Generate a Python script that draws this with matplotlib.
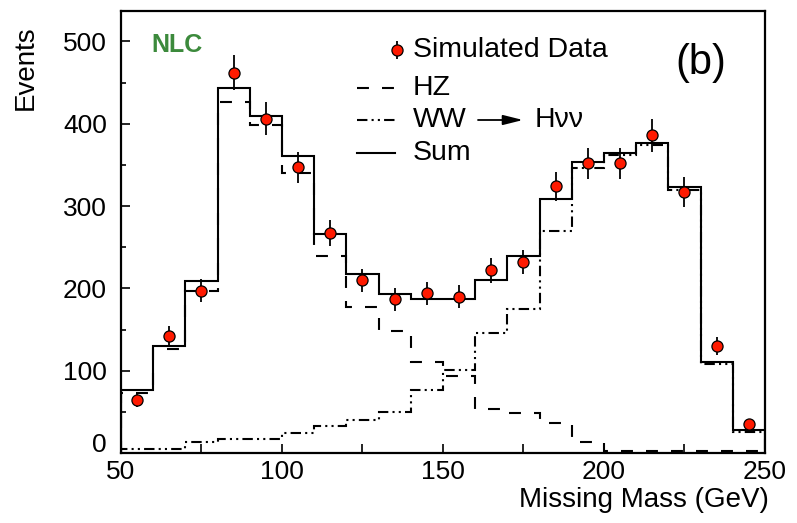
import numpy as np
import matplotlib
matplotlib.use("Agg")
import matplotlib.pyplot as plt
from matplotlib.ticker import MultipleLocator, FuncFormatter

plt.rcParams['font.family'] = ['Liberation Sans', 'DejaVu Sans']
plt.rcParams['lines.scale_dashes'] = False

# missing mass bins, 10 GeV wide
edges = np.arange(50, 251, 10)
centers = edges[:-1] + 5

# simulated data with statistical errors
data = [64, 142, 197, 462, 406, 347, 267, 210, 187, 194,
        190, 222, 232, 324, 352, 352, 386, 317, 130, 35]
data_err = [8, 12, 14, 21, 20, 19, 16, 14, 14, 14,
            14, 15, 15, 18, 19, 19, 20, 18, 11, 6]

# expected signal contributions
hz = [73, 126, 197, 426, 398, 340, 239, 177, 148, 111,
      94, 54, 49, 37, 13, 3, 3, 3, 3, 3]
ww = [5, 5, 13, 17, 17, 24, 33, 40, 50, 76,
      101, 146, 175, 270, 346, 362, 374, 320, 108, 25]
total = [77, 130, 209, 443, 410, 361, 266, 217, 193, 187,
         187, 210, 239, 308, 353, 365, 377, 323, 111, 28]

dashed = (0, (8.6, 9.4))
dashdotdot = (0, (7.5, 3.0, 1.5, 3.0, 1.5, 3.0))
lw = 1.5
pt_style = dict(fmt='o', color='k', ecolor='k', elinewidth=1.3,
                mfc='#ff1a00', mec='k', mew=0.9, ms=8, capsize=0)

fig = plt.figure(figsize=(7.97, 5.23), dpi=100)
ax = fig.add_axes([121/797, 1 - 453/523, 644/797, 442/523])

ax.stairs(hz, edges, color='k', lw=lw, linestyle=dashed)
ax.stairs(ww, edges, color='k', lw=lw, linestyle=dashdotdot)
ax.stairs(total, edges, color='k', lw=lw)
ax.errorbar(centers, data, yerr=data_err, zorder=5, **pt_style)

ax.set_xlim(50, 250)
ax.set_ylim(0, 537)

for s in ax.spines.values():
    s.set_linewidth(1.6)

ax.xaxis.set_major_locator(MultipleLocator(50))
ax.xaxis.set_minor_locator(MultipleLocator(25))
ax.yaxis.set_major_locator(MultipleLocator(100))
ax.yaxis.set_minor_locator(MultipleLocator(50))
ax.tick_params(which='both', direction='in', top=False, right=False, width=1.2)
ax.tick_params(axis='x', which='both', length=6.5, pad=5, labelsize=19)
ax.tick_params(axis='y', which='major', length=6.5, pad=10, labelsize=19)
ax.tick_params(axis='y', which='minor', length=3.6)

# the "0" label sits a bit above the x axis, drawn separately
ax.yaxis.set_major_formatter(FuncFormatter(lambda v, p: '' if v == 0 else f'{v:.0f}'))
ax.annotate('0', xy=(0, 0), xycoords=('axes fraction', 'data'),
            xytext=(-10, 6), textcoords='offset points',
            ha='right', va='center', fontsize=19)

ax.set_xlabel('Missing Mass (GeV)', fontsize=20, loc='right')
ax.xaxis.set_label_coords(1.006, -0.078)
ax.set_ylabel('Events', fontsize=20, loc='top')
ax.yaxis.set_label_coords(-0.127, 0.968)

# legend, drawn by hand in axes fraction
tr = ax.transAxes
def ax_xy(px, py):
    return (px - 121) / 644, (453 - py) / 442

x0, _ = ax_xy(357, 0)
x1, _ = ax_xy(395, 0)
xt, _ = ax_xy(413, 0)
xm, ym = ax_xy(397, 50)
ax.errorbar([xm], [ym], yerr=[9 / 442], transform=tr, clip_on=False,
            **pt_style)
ax.text(xt, ym, 'Simulated Data', transform=tr, fontsize=20.5, va='center')

_, y = ax_xy(0, 88)
ax.plot([x0, x1], [y, y], color='k', lw=lw, linestyle=dashed, transform=tr)
ax.text(xt, y, 'HZ', transform=tr, fontsize=20.5, va='center')

_, y = ax_xy(0, 120)
ax.plot([x0, x1], [y, y], color='k', lw=lw, linestyle=dashdotdot, transform=tr)
ax.text(xt, y, 'WW', transform=tr, fontsize=20.5, va='center')
a0, _ = ax_xy(478, 0)
a1, _ = ax_xy(523, 0)
ax.annotate('', xy=(a1, y), xytext=(a0, y), xycoords=tr, textcoords=tr,
            arrowprops=dict(arrowstyle='-|>,head_length=1.2,head_width=0.3',
                            color='k', lw=1.3, mutation_scale=10,
                            shrinkA=0, shrinkB=0))
hx, _ = ax_xy(535, 0)
ax.text(hx, y, 'H\u03bd\u03bd', transform=tr, fontsize=20.5, va='center')

_, y = ax_xy(0, 153)
ax.plot([x0, x1], [y, y], color='k', lw=lw, transform=tr)
ax.text(xt, y, 'Sum', transform=tr, fontsize=20.5, va='center')

bx, by = ax_xy(701, 63)
ax.text(bx, by, '(b)', transform=tr, fontsize=30, ha='center', va='center')
nx, ny = ax_xy(151, 45)
ax.text(nx, ny, 'NLC', transform=tr, fontsize=18, fontweight='bold',
        color='#3c8a3c', va='center')

fig.savefig('out.png', dpi=100)
